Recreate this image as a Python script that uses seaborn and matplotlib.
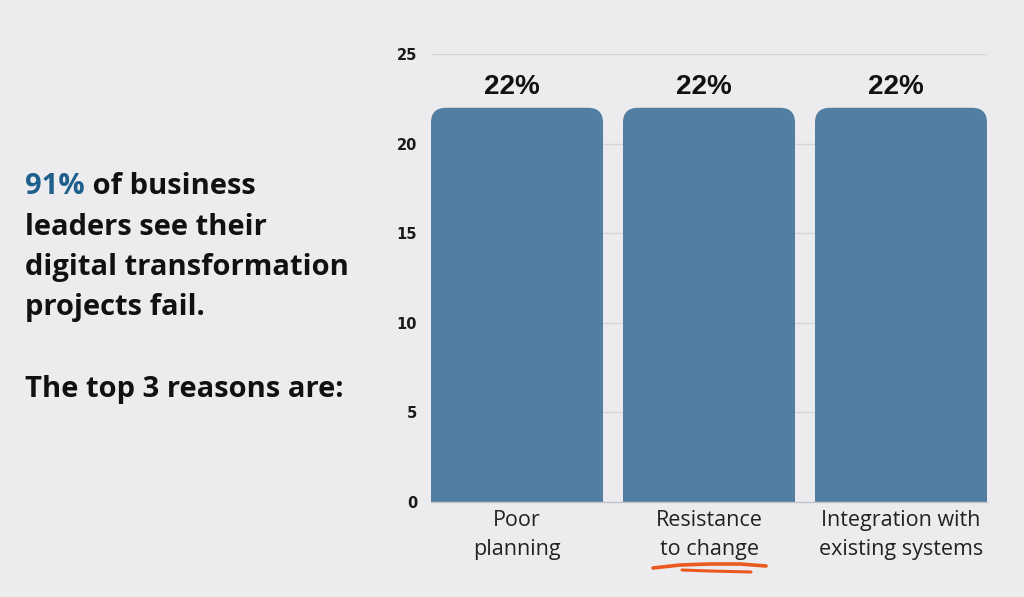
import numpy as np
import pandas as pd
import matplotlib
matplotlib.use("Agg")
import matplotlib.pyplot as plt
from matplotlib.path import Path as MPath
from matplotlib.patches import PathPatch
from matplotlib.lines import Line2D
import seaborn as sns

# ── Data ──────────────────────────────────────────────────────────────────────
reasons = ["Poor\nplanning", "Resistance\nto change", "Integration with\nexisting systems"]
shares = [22, 22, 22]
y_ticks = [0, 5, 10, 15, 20, 25]

intro_lines = ["leaders see their", "digital transformation", "projects fail."]
headline_pct = "91%"
headline_rest = " of business"
closing_line = "The top 3 reasons are:"

# ── Style ─────────────────────────────────────────────────────────────────────
BG = "#ECECEE"
BAR = "#527EA2"
BLUE = "#1E5F8C"
INK = "#111111"
ORANGE = "#EA5A1E"

sns.set_theme(style="white")
plt.rcParams["font.family"] = ["Open Sans", "DejaVu Sans"]

W, H = 1024, 597
fig = plt.figure(figsize=(W / 100, H / 100), dpi=100, facecolor=BG)
ax = fig.add_axes([431 / W, (H - 502) / H, 556 / W, 448 / H], facecolor=BG)

df = pd.DataFrame({"reason": reasons, "share": shares})
sns.barplot(data=df, x="reason", y="share", color=BAR, saturation=1,
            width=0.896, ax=ax, zorder=2)

ax.set_xlim(-0.448, 2.448)
ax.set_ylim(0, 25)

# rounded top corners (radius ~15px)
rx = 15 * (ax.get_xlim()[1] - ax.get_xlim()[0]) / 556
ry = 15 * 25 / 448
for p in list(ax.patches):
    x0, w, h = p.get_x(), p.get_width(), p.get_height()
    x1 = x0 + w
    verts = [(x0, 0), (x0, h - ry), (x0, h), (x0 + rx, h), (x1 - rx, h),
             (x1, h), (x1, h - ry), (x1, 0), (x0, 0)]
    codes = [MPath.MOVETO, MPath.LINETO, MPath.CURVE3, MPath.CURVE3, MPath.LINETO,
             MPath.CURVE3, MPath.CURVE3, MPath.LINETO, MPath.CLOSEPOLY]
    ax.add_patch(PathPatch(MPath(verts, codes), facecolor=BAR, edgecolor="none", zorder=2))
    p.set_visible(False)
    ax.annotate(f"{h:.0f}%", xy=(x0 + w / 2, h), xytext=(-4, 10), textcoords="offset points",
                ha="center", va="baseline", fontsize=20, fontweight="bold", color=INK,
                family=["Liberation Sans", "DejaVu Sans"])

ax.set_yticks(y_ticks)
ax.yaxis.grid(True, color="#D6D6D9", linewidth=1)
ax.set_axisbelow(True)
for s in ["top", "right", "left"]:
    ax.spines[s].set_visible(False)
ax.spines["bottom"].set_color("#C4C4C8")
ax.spines["bottom"].set_linewidth(1)
ax.tick_params(axis="y", length=0, pad=10, labelsize=10.5, labelcolor="#1A1A1A")
ax.tick_params(axis="x", length=0, pad=6, labelsize=15.5, labelcolor="#222222")
for t in ax.get_yticklabels():
    t.set_family(["DejaVu Sans"])
    t.set_fontweight("bold")
for t in ax.get_xticklabels():
    t.set_linespacing(1.45)
ax.set_xlabel("")
ax.set_ylabel("")

# ── Left text block ───────────────────────────────────────────────────────────
fs = 21
t1 = fig.text(25 / W, 1 - 194 / H, headline_pct, fontsize=fs, fontweight="bold",
              color=BLUE, va="baseline", ha="left")
fig.canvas.draw()
ax.annotate(headline_rest, xy=(1, 0), xycoords=t1, va="bottom", ha="left",
            fontsize=fs, fontweight="bold", color=INK, annotation_clip=False)
for i, line in enumerate(intro_lines):
    fig.text(25 / W, 1 - (194 + 40.5 * (i + 1)) / H, line, fontsize=fs,
             fontweight="bold", color=INK, va="baseline", ha="left")
fig.text(25 / W, 1 - 397 / H, closing_line, fontsize=fs, fontweight="bold",
         color=INK, va="baseline", ha="left")

# hand-drawn underline under "to change"
stroke1 = Line2D(np.array([653, 680, 710, 740, 766]) / W,
                 1 - np.array([568, 565, 564, 564, 566]) / H,
                 color=ORANGE, linewidth=2.6, solid_capstyle="round")
stroke2 = Line2D(np.array([682, 710, 751]) / W, 1 - np.array([570, 571, 572]) / H,
                 color=ORANGE, linewidth=2.2, solid_capstyle="round")
fig.add_artist(stroke1)
fig.add_artist(stroke2)

fig.savefig("out.png", dpi=100, facecolor=BG)
